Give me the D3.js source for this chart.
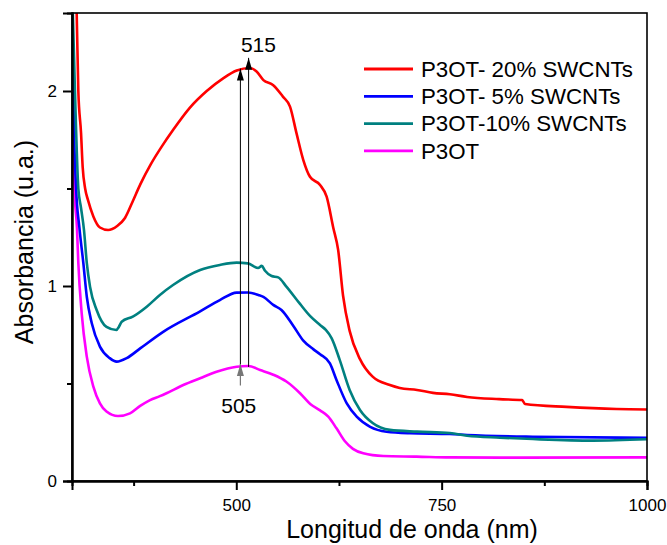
<!DOCTYPE html>
<html>
<head>
<meta charset="utf-8">
<script src="https://cdn.jsdelivr.net/npm/d3@7"></script>
<style>
  body { margin: 0; background: #fff; }
  text { font-family: Arial, "Liberation Sans", sans-serif; fill: #000; }
</style>
</head>
<body>
<div id="chart"></div>
<script>
// spectra: [wavelength nm, absorbance]
var red20 = [[304,2.6],[305.7,2.4],[307.7,2.0],[311,1.785],[313,1.61],[316,1.5],[319.5,1.44],[326,1.357],[334,1.30],[344,1.287],[355,1.308],[364.5,1.349],[374,1.435],[383,1.52],[396,1.625],[410,1.72],[423,1.80],[443.6,1.915],[464,2.0],[484,2.065],[500.5,2.105],[516.7,2.118],[525,2.099],[533,2.056],[545,2.03],[557,1.97],[565.4,1.92],[573.5,1.78],[581.6,1.646],[589.7,1.56],[602,1.518],[610,1.458],[618,1.30],[624,1.185],[630,0.95],[638,0.77],[650.6,0.625],[666,0.535],[687,0.492],[699,0.477],[720,0.467],[739.5,0.452],[760,0.445],[781,0.431],[820,0.42],[848,0.415],[851.5,0.395],[902,0.38],[963,0.369],[1000,0.367]];
var blue5 = [[298,2.6],[300.5,2.4],[301.5,2.0],[305,1.5],[309,1.3],[313.8,1.118],[318,0.945],[324,0.81],[334,0.689],[346,0.63],[354.4,0.612],[366.6,0.63],[383,0.68],[411,0.765],[456,0.87],[480,0.928],[500.5,0.966],[514.6,0.967],[526.8,0.954],[533,0.944],[545,0.903],[555,0.877],[569.5,0.795],[581.6,0.72],[594,0.675],[602,0.65],[614,0.603],[622,0.518],[634.5,0.398],[646.6,0.33],[663,0.278],[683,0.253],[711.5,0.245],[760,0.241],[781,0.236],[861,0.227],[1000,0.222]];
var teal10 = [[299,2.6],[301,2.4],[303.6,2.0],[307.7,1.5],[311,1.4],[314.6,1.287],[318,1.118],[322,0.995],[330,0.877],[342,0.79],[354,0.774],[357,0.79],[360.5,0.817],[374,0.843],[391,0.894],[407,0.954],[423,1.005],[456,1.082],[480,1.108],[500.5,1.12],[514,1.116],[526.5,1.092],[531,1.103],[535,1.078],[543,1.051],[551,1.044],[561,0.997],[577.6,0.908],[590,0.845],[602,0.80],[609,0.775],[616,0.733],[626,0.62],[638,0.467],[650.6,0.364],[666,0.297],[687,0.262],[720,0.253],[760,0.246],[781,0.232],[821,0.222],[861,0.215],[934,0.207],[1000,0.214]];
var p3ot = [[297,2.6],[299.5,2.4],[301,2.0],[303,1.5],[306,1.3],[307.7,1.118],[311.8,0.86],[318,0.638],[326,0.484],[334,0.398],[342,0.356],[356,0.333],[370.6,0.347],[383,0.385],[395,0.415],[407,0.435],[415,0.45],[435.5,0.492],[456,0.527],[476,0.56],[500.5,0.586],[514.6,0.59],[529,0.569],[545,0.545],[561,0.51],[577.6,0.45],[590,0.395],[602,0.362],[612,0.33],[622,0.27],[632,0.205],[642,0.165],[654.6,0.142],[679,0.128],[719.6,0.125],[760,0.121],[821,0.12],[1000,0.121]];

var seriesNames = ["P3OT- 20% SWCNTs", "P3OT- 5% SWCNTs", "P3OT-10% SWCNTs", "P3OT"];
var seriesData = [red20, blue5, teal10, p3ot];
var seriesColors = ["#ff0000", "#0000ff", "#008080", "#ff00ff"];
// drawing order (back to front)
var drawOrder = [3, 1, 2, 0];

var xMajor = [500, 750, 1000], xMinor = [375, 625, 875];
var yMajor = [0, 1, 2], yMinor = [0.5, 1.5];

// peak markers
var peakWl = [505, 515];
var peakFrom = [0.595, 0.585];
var peakTo = [2.115, 2.17];
var pointerFrom = 0.49, pointerTo = 0.6;

const width = 667, height = 545;
const margin = {top: 13, right: 20, bottom: 64, left: 72};

const x = d3.scaleLinear().domain([300, 1000]).range([margin.left, width - margin.right]);
const y = d3.scaleLinear().domain([0, 2.4]).range([height - margin.bottom, margin.top]);

const svg = d3.select("#chart").append("svg")
    .attr("width", width)
    .attr("height", height);

const defs = svg.append("defs");
defs.append("clipPath").attr("id", "clip")
  .append("rect")
    .attr("x", margin.left).attr("y", margin.top)
    .attr("width", width - margin.left - margin.right)
    .attr("height", height - margin.top - margin.bottom);

["#000", "#777"].forEach(function(c, i) {
  defs.append("marker")
      .attr("id", "arr" + i)
      .attr("markerUnits", "userSpaceOnUse")
      .attr("viewBox", "0 -4 12 8")
      .attr("refX", 12).attr("refY", 0)
      .attr("markerWidth", 12).attr("markerHeight", 8)
      .attr("orient", "auto")
    .append("path")
      .attr("d", "M0,-3.5L12,0L0,3.5Z")
      .attr("fill", c);
});

const line = d3.line()
    .x(function(d) { return x(d[0]); })
    .y(function(d) { return y(d[1]); })
    .curve(d3.curveMonotoneX);

const curves = svg.append("g").attr("clip-path", "url(#clip)");
drawOrder.forEach(function(i) {
  curves.append("path")
      .attr("d", line(seriesData[i]))
      .attr("fill", "none")
      .attr("stroke", seriesColors[i])
      .attr("stroke-width", 2.6)
      .attr("stroke-linejoin", "round");
});

// peak arrows
peakWl.forEach(function(w, i) {
  svg.append("line")
      .attr("x1", x(w)).attr("x2", x(w))
      .attr("y1", y(peakFrom[i])).attr("y2", y(peakTo[i]))
      .attr("stroke", "#000").attr("stroke-width", 1)
      .attr("marker-end", "url(#arr0)");
});
svg.append("line")
    .attr("x1", x(peakWl[0])).attr("x2", x(peakWl[0]))
    .attr("y1", y(pointerFrom)).attr("y2", y(pointerTo))
    .attr("stroke", "#777").attr("stroke-width", 1.2)
    .attr("marker-end", "url(#arr1)");

svg.append("text").attr("x", x(527)).attr("y", y(2.2))
    .attr("text-anchor", "middle").style("font-size", "21px").text("515");
svg.append("text").attr("x", x(503)).attr("y", y(0.35))
    .attr("text-anchor", "middle").style("font-size", "21px").text("505");

// frame
svg.append("rect")
    .attr("x", margin.left).attr("y", margin.top)
    .attr("width", width - margin.left - margin.right)
    .attr("height", height - margin.top - margin.bottom)
    .attr("fill", "none").attr("stroke", "#000").attr("stroke-width", 1.6);

// axes
svg.append("g")
    .attr("transform", "translate(0," + (height - margin.bottom) + ")")
    .call(d3.axisBottom(x).tickValues(xMajor).tickSize(9).tickPadding(9).tickFormat(d3.format("d")));
svg.append("g")
    .attr("transform", "translate(0," + (height - margin.bottom) + ")")
    .call(d3.axisBottom(x).tickValues(xMinor).tickSize(5).tickFormat(""));
svg.append("g")
    .attr("transform", "translate(" + margin.left + ",0)")
    .call(d3.axisLeft(y).tickValues(yMajor).tickSize(9).tickPadding(6).tickFormat(d3.format("d")));
svg.append("g")
    .attr("transform", "translate(" + margin.left + ",0)")
    .call(d3.axisLeft(y).tickValues(yMinor).tickSize(5).tickFormat(""));

svg.selectAll(".domain").attr("stroke-width", 2);
svg.selectAll(".tick line").attr("stroke-width", 2);
svg.selectAll(".tick text").style("font-size", "17px").style("font-family", "Arial, 'Liberation Sans', sans-serif");

// axis titles
svg.append("text")
    .attr("x", 412).attr("y", 538)
    .attr("text-anchor", "middle")
    .style("font-size", "25px")
    .text("Longitud de onda (nm)");
svg.append("text")
    .attr("transform", "translate(33,242) rotate(-90)")
    .attr("text-anchor", "middle")
    .style("font-size", "25px")
    .text("Absorbancia (u.a.)");

// legend
const legend = svg.append("g").attr("transform", "translate(364,69)");
seriesNames.forEach(function(name, i) {
  const g = legend.append("g").attr("transform", "translate(0," + (i * 27.3) + ")");
  g.append("line").attr("x1", 0).attr("x2", 49)
      .attr("stroke", seriesColors[i]).attr("stroke-width", 2.8);
  g.append("text").attr("x", 57).attr("y", 7.8)
      .style("font-size", "22.3px").text(name);
});
</script>
</body>
</html>
